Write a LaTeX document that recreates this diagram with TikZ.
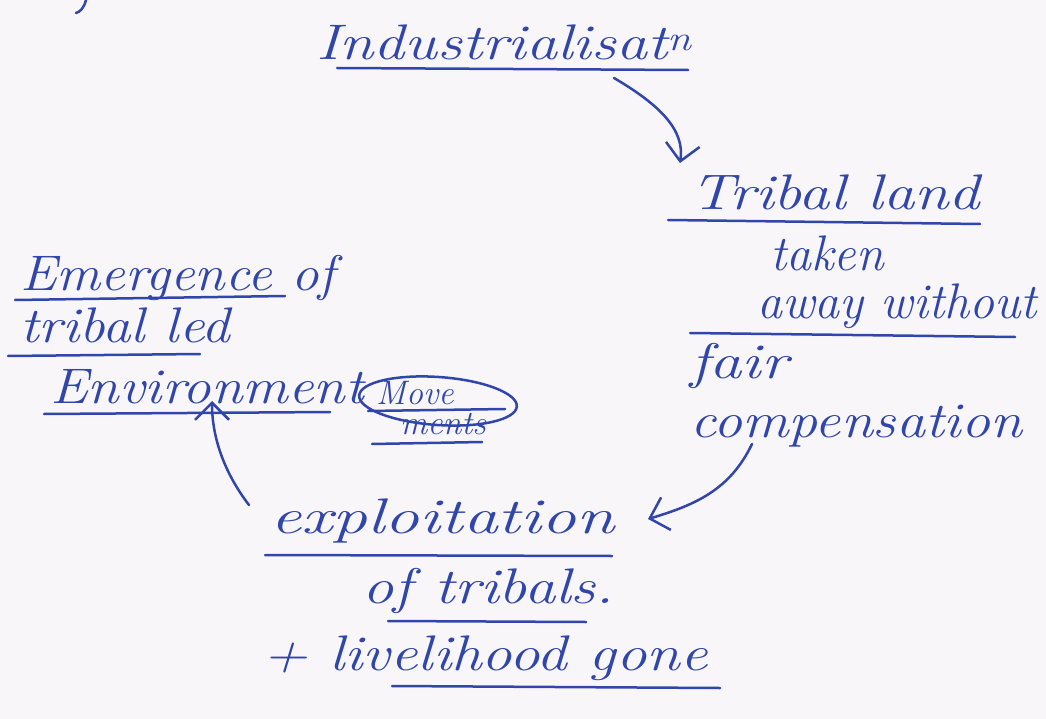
\documentclass[tikz,border=0pt]{standalone}
\usetikzlibrary{arrows.meta,shapes.geometric}
\definecolor{ink}{RGB}{48,70,170}
\definecolor{paper}{RGB}{249,246,250}
% horizontally widened italic lettering
\newcommand\wide[2]{\scalebox{#1}[1]{#2}}
\begin{document}
\begin{tikzpicture}[x=1pt,y=-1pt,
  note/.style={text=ink,font=\itshape\fontsize{50}{52}\selectfont,inner sep=0pt,anchor=base west},
  small/.style={text=ink,font=\itshape\fontsize{34}{36}\selectfont,inner sep=0pt,anchor=base west},
  rule/.style={draw=ink,line width=2.5pt,line cap=round},
  link/.style={draw=ink,line width=2.5pt,line cap=round,-{Straight Barb[length=17pt,width=34pt,line width=2.5pt]}}]
\fill[paper] (0,0) rectangle (1046,719);
\useasboundingbox (0,0) rectangle (1046,719);

% stray stroke from the line above
\draw[ink,line width=2.5pt,line cap=round] (86,0) .. controls (84,8) and (80,12) .. (76,13);

% texts
\node[note] (ind)   at (316,60)  {\wide{1.24}{Industrialisat\textsuperscript{n}}};
\node[note] (tri)   at (690,210) {\wide{1.25}{Tribal land}};
\node[note] (taken) at (770,270) {\wide{1.0}{taken}};
\node[note] (away)  at (757,318) {\wide{1.0}{away without}};
\node[note] (fair)  at (690,378) {\wide{1.29}{fair}};
\node[note] (comp)  at (690,437) {\wide{1.16}{compensation}};
\node[note] (expl)  at (270,533) {\wide{1.39}{exploitation}};
\node[note] (oft)   at (362,603) {\wide{1.25}{of tribals.}};
\node[note] (live)  at (262,670) {\wide{1.22}{+ livelihood gone}};
\node[note] (emer)  at (20,290)  {\wide{1.1}{Emergence of}};
\node[note] (tled)  at (20,342)  {\wide{1.14}{tribal led}};
\node[note] (env)   at (50,403)  {\wide{1.14}{Environment}};
\node[small] (move) at (376,404) {Move};
\node[small] (ments) at (400,434) {ments};
\node[ellipse,draw=ink,line width=2.5pt,minimum width=158pt,minimum height=48pt,rotate=-4] (ring) at (438,401) {};

% underlines
\draw[rule] (337,68) -- (688,70);
\draw[rule] (668,220) -- (980,224);
\draw[rule] (690,333) -- (1015,337);
\draw[rule] (265,555) -- (612,556);
\draw[rule] (388,621) -- (586,622);
\draw[rule] (392,686) -- (720,688);
\draw[rule] (15,300) -- (285,296);
\draw[rule] (8,356) -- (200,354);
\draw[rule] (44,414) -- (330,412);
\draw[rule] (368,411) -- (505,409);
\draw[rule] (372,444) -- (482,442);

% arrows
\coordinate (a1) at (614,78);
\coordinate (a1e) at (680,163);
\draw[link] (a1) .. controls (660,105) and (685,130) .. (a1e);
\coordinate (a2) at (752,444);
\coordinate (a2e) at (648,519);
\draw[link] (a2) .. controls (730,490) and (695,505) .. (a2e);
\coordinate (a3) at (249,505);
\coordinate (a3e) at (212,401);
\draw[link] (a3) .. controls (226,475) and (212,440) .. (a3e);
\end{tikzpicture}
\end{document}
